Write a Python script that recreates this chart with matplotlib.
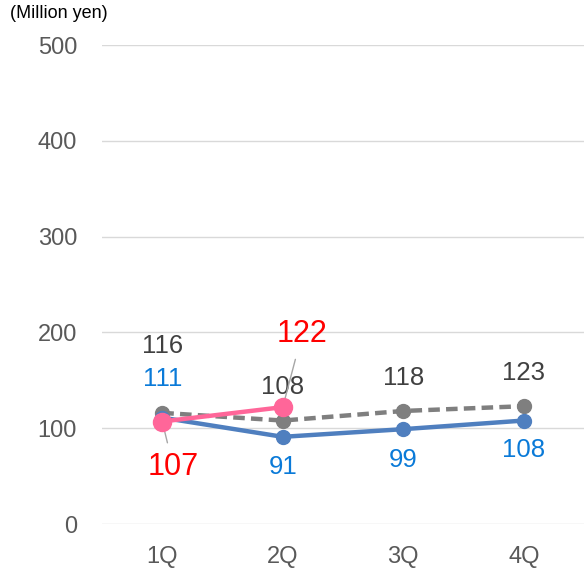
import matplotlib
matplotlib.use("Agg")
import matplotlib.pyplot as plt

quarters = ["1Q", "2Q", "3Q", "4Q"]
prev_year = [116, 108, 118, 123]
plan = [111, 91, 99, 108]
actual = [107, 122]
yticks = [0, 100, 200, 300, 400, 500]

plt.rcParams['font.family'] = ['Liberation Sans', 'DejaVu Sans']

fig = plt.figure(figsize=(5.84, 5.72), dpi=100)
ax = fig.add_axes([0.1747, 0.0839, 0.8253, 0.8374])
x = list(range(len(quarters)))

ax.plot(x, prev_year, color="#7f7f7f", lw=3.2, ls=(0, (2.6, 1.4)), marker="o", ms=10, zorder=3)
ax.plot(x, plan, color="#4f7fbf", lw=3.2, marker="o", ms=10, zorder=4)
ax.plot(x[:len(actual)], actual, color="#ff6699", lw=3.2, marker="o", ms=13, zorder=5)

ax.set_xlim(-0.5, 3.5)
ax.set_ylim(0, 500)
ax.set_yticks(yticks)
ax.set_xticks(x)
ax.set_xticklabels(quarters)
ax.tick_params(length=0, labelsize=17, colors="#595959")
ax.tick_params(axis='x', pad=16)
ax.tick_params(axis='y', pad=18)
ax.grid(axis='y', color="#d9d9d9", lw=1)
ax.set_axisbelow(True)
for s in ax.spines.values():
    s.set_visible(False)

fs = 18.5
gray = "#404040"
blue = "#0a7ad8"
red = "#ff0000"

# previous year labels
offs_prev = [48, 24, 24, 24]
for i, v in enumerate(prev_year):
    ax.annotate(str(v), (i, v), xytext=(0, offs_prev[i]), textcoords="offset points",
                ha="center", va="center", fontsize=fs, color=gray)
# plan labels
offs_plan = [28, -22, -22, -21]
for i, v in enumerate(plan):
    ax.annotate(str(v), (i, v), xytext=(0, offs_plan[i]), textcoords="offset points",
                ha="center", va="center", fontsize=fs, color=blue)
# actual labels with leader lines
ax.annotate(str(actual[0]), (x[0], actual[0]), xytext=(8, -33), textcoords="offset points",
            ha="center", va="center", fontsize=22, color=red,
            arrowprops=dict(arrowstyle="-", color="#a6a6a6", lw=1, shrinkA=5, shrinkB=4))
ax.annotate(str(actual[1]), (x[1], actual[1]), xytext=(14, 53), textcoords="offset points",
            ha="center", va="center", fontsize=22, color=red,
            arrowprops=dict(arrowstyle="-", color="#a6a6a6", lw=1, shrinkA=6, shrinkB=2))

fig.text(0.017, 0.976, "(Million yen)", fontsize=13, color="black", ha="left", va="center")

fig.savefig("out.png", dpi=100)
